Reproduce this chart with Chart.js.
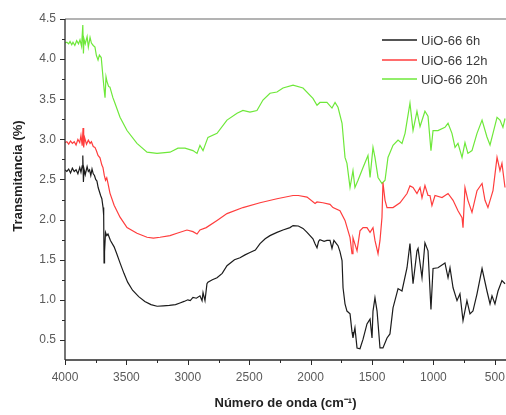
<!DOCTYPE html>
<html>
<head>
<meta charset="utf-8">
<script src="https://cdn.jsdelivr.net/npm/chart.js@4.4.1/dist/chart.umd.min.js"></script>
<style>
  html, body { margin: 0; padding: 0; background: #fff; }
  #wrap { width: 506px; height: 415px; }
</style>
</head>
<body>
<div id="wrap"><canvas id="c" width="506" height="415"></canvas></div>
<script>
// FTIR spectra of UiO-66 at three synthesis times (wavenumber in cm-1, transmittance)
const seriesNames = ['UiO-66 6h', 'UiO-66 12h', 'UiO-66 20h'];

const wn6h = [4000,3985,3970,3955,3940,3925,3910,3895,3880,3870,3860,3855,3850,3845,3835,3820,3810,3800,3790,3780,3770,3760,3750,3740,3730,3720,3710,3700,3690,3685,3682,3678,3670,3660,3650,3640,3630,3600,3580,3552,3520,3490,3450,3400,3350,3300,3250,3200,3150,3100,3064,3030,3000,2980,2958,2930,2901,2884,2876,2860,2844,2836,2800,2762,2720,2681,2620,2575,2534,2494,2450,2412,2370,2331,2274,2225,2168,2143,2100,2062,2029,1981,1964,1948,1935,1924,1890,1867,1842,1826,1810,1795,1777,1761,1744,1736,1720,1704,1679,1663,1655,1639,1622,1598,1573,1541,1516,1500,1492,1476,1459,1435,1411,1378,1354,1329,1288,1256,1215,1191,1166,1134,1125,1093,1069,1044,1020,1003,963,906,881,865,840,808,784,759,727,702,678,645,604,564,539,523,499,474,442,417];
const t6h  = [2.62,2.60,2.63,2.58,2.64,2.60,2.62,2.57,2.65,2.59,2.67,2.80,2.47,2.63,2.56,2.66,2.60,2.62,2.55,2.63,2.57,2.55,2.50,2.48,2.40,2.35,2.30,2.26,2.15,2.05,1.46,1.60,1.84,1.80,1.82,1.78,1.74,1.66,1.58,1.46,1.33,1.22,1.12,1.04,0.98,0.94,0.92,0.925,0.93,0.94,0.96,0.98,1.00,0.99,1.03,1.02,1.05,0.99,1.09,0.99,1.20,1.22,1.25,1.275,1.33,1.425,1.50,1.525,1.56,1.59,1.62,1.70,1.76,1.80,1.84,1.87,1.90,1.925,1.92,1.89,1.84,1.76,1.70,1.65,1.73,1.75,1.73,1.74,1.74,1.64,1.74,1.71,1.675,1.60,1.49,1.15,0.95,0.86,0.825,0.60,0.525,0.65,0.40,0.39,0.51,0.70,0.76,0.525,0.86,1.025,0.86,0.40,0.40,0.525,0.575,0.90,1.14,1.11,1.40,1.70,1.20,1.61,1.64,1.275,1.71,1.61,0.88,1.39,1.40,1.46,1.275,1.40,1.15,0.99,1.075,0.74,0.99,0.825,0.86,1.075,1.39,1.11,0.95,1.05,0.95,1.11,1.24,1.20];

const wn12h = [4000,3985,3970,3955,3940,3925,3910,3895,3880,3870,3860,3853,3848,3840,3825,3810,3796,3785,3770,3756,3745,3731,3715,3700,3691,3680,3670,3660,3650,3634,3600,3552,3495,3414,3332,3280,3226,3145,3088,3007,2958,2925,2901,2850,2762,2681,2551,2412,2274,2143,2100,2029,1964,1948,1900,1842,1818,1761,1720,1679,1663,1655,1622,1598,1573,1541,1516,1492,1476,1451,1435,1419,1411,1394,1378,1329,1272,1215,1191,1166,1134,1109,1093,1069,1044,1028,1012,987,930,881,840,800,767,759,743,719,686,645,604,580,556,515,482,458,442,417];
const t12h  = [2.96,2.97,2.94,2.98,2.95,2.97,2.93,3.00,2.96,3.05,2.92,3.14,2.90,3.02,2.94,2.99,2.95,2.97,2.91,2.90,2.86,2.80,2.77,2.68,2.65,2.55,2.49,2.52,2.45,2.33,2.18,2.03,1.90,1.83,1.78,1.77,1.78,1.80,1.83,1.87,1.85,1.82,1.87,1.90,1.99,2.075,2.15,2.21,2.26,2.30,2.30,2.28,2.20,2.22,2.21,2.19,2.15,2.11,1.99,1.775,1.575,1.775,1.61,1.86,1.90,1.90,1.84,1.90,1.74,1.575,1.74,2.025,2.46,2.24,2.15,2.15,2.21,2.325,2.42,2.40,2.325,2.40,2.27,2.425,2.30,2.30,2.175,2.30,2.275,2.325,2.24,2.11,2.025,1.90,2.40,2.24,2.09,2.36,2.45,2.24,2.15,2.36,2.775,2.61,2.70,2.40];

const wn20h = [4000,3985,3970,3959,3945,3935,3920,3905,3890,3878,3865,3855,3850,3845,3835,3820,3810,3796,3785,3770,3756,3745,3731,3720,3705,3691,3680,3674,3666,3658,3645,3634,3610,3593,3552,3495,3414,3332,3251,3145,3080,3023,2958,2925,2901,2876,2836,2762,2681,2599,2551,2494,2437,2388,2331,2274,2225,2143,2062,1981,1948,1924,1867,1826,1801,1777,1744,1720,1704,1679,1655,1639,1614,1573,1533,1516,1492,1476,1451,1419,1394,1370,1329,1288,1256,1231,1191,1166,1134,1109,1069,1044,1020,1003,963,906,881,849,824,800,767,743,719,686,645,604,564,539,515,482,458,434,417];
const t20h  = [4.20,4.21,4.19,4.22,4.18,4.21,4.17,4.23,4.19,4.24,4.16,4.425,4.07,4.25,4.19,4.28,4.15,4.27,4.20,4.17,4.15,4.05,3.99,4.05,4.02,3.78,3.60,3.52,3.78,3.72,3.66,3.65,3.52,3.45,3.275,3.11,2.95,2.84,2.825,2.84,2.89,2.89,2.86,2.825,2.925,2.86,3.025,3.075,3.24,3.325,3.36,3.34,3.36,3.49,3.575,3.59,3.64,3.675,3.64,3.51,3.425,3.46,3.46,3.39,3.46,3.40,3.20,2.775,2.70,2.40,2.61,2.40,2.49,2.65,2.80,2.525,2.90,2.775,2.525,2.45,2.49,2.775,2.925,2.99,2.95,3.075,3.45,3.11,3.35,3.16,3.35,3.29,2.86,3.11,3.11,3.15,3.20,3.075,2.90,2.95,2.775,2.96,2.825,2.86,3.075,3.24,3.03,2.93,3.075,3.275,3.24,3.15,3.26];

const xTickValues = [4000, 3500, 3000, 2500, 2000, 1500, 1000, 500];
const yTickValues = [0.5, 1.0, 1.5, 2.0, 2.5, 3.0, 3.5, 4.0, 4.5];

const seriesColors = ['#1c1c1c', '#ff3d3d', '#6ee83a'];

const toPoints = (xs, ys) => xs.map((x, i) => ({ x: x, y: ys[i] }));

const FONT = '"Liberation Sans", Arial, Helvetica, sans-serif';

// tick marks, frame, legend and y-axis title
const decor = {
  id: 'decor',
  afterDraw(chart) {
    const { ctx, chartArea: a, scales: { x, y } } = chart;
    ctx.save();
    const seg = (x1, y1, x2, y2) => { ctx.beginPath(); ctx.moveTo(x1, y1); ctx.lineTo(x2, y2); ctx.stroke(); };

    // top frame line
    ctx.strokeStyle = '#9a9a9a';
    ctx.lineWidth = 1.5;
    seg(a.left, a.top, a.right, a.top);

    // axes
    ctx.strokeStyle = '#2a2a2a';
    ctx.lineWidth = 1.3;
    seg(a.left, a.top, a.left, a.bottom);
    seg(a.left, a.bottom, a.right, a.bottom);

    ctx.lineWidth = 1;
    for (let v = 500; v <= 4000; v += 250) {
      const px = Math.round(x.getPixelForValue(v)) + 0.5;
      seg(px, a.bottom, px, a.bottom + (v % 500 === 0 ? 5 : 3));
    }
    for (let v = 0.5; v <= 4.5001; v += 0.25) {
      const py = Math.round(y.getPixelForValue(v)) + 0.5;
      const major = Math.abs(v * 2 - Math.round(v * 2)) < 1e-6;
      seg(a.left, py, a.left - (major ? 5 : 3), py);
    }

    // legend
    ctx.font = '13px ' + FONT;
    ctx.textBaseline = 'middle';
    ctx.textAlign = 'left';
    const rows = [40, 60, 79];
    seriesNames.forEach((name, i) => {
      ctx.strokeStyle = seriesColors[i];
      ctx.lineWidth = 1.5;
      seg(382, rows[i], 417, rows[i]);
      ctx.fillStyle = '#3a3a3a';
      ctx.fillText(name, 421, rows[i] + 1);
    });

    // y-axis title
    ctx.translate(18, 176);
    ctx.rotate(-Math.PI / 2);
    ctx.textAlign = 'center';
    ctx.fillStyle = '#222';
    ctx.font = 'bold 13px ' + FONT;
    ctx.fillText('Transmitancia (%)', 0, 0);
    ctx.restore();
  }
};

new Chart(document.getElementById('c'), {
  type: 'line',
  data: {
    datasets: [
      { label: seriesNames[0], data: toPoints(wn6h, t6h) },
      { label: seriesNames[1], data: toPoints(wn12h, t12h) },
      { label: seriesNames[2], data: toPoints(wn20h, t20h) }
    ].map((d, i) => Object.assign(d, {
      borderColor: seriesColors[i],
      borderWidth: 1.2,
      pointRadius: 0,
      tension: 0,
      fill: false
    }))
  },
  options: {
    responsive: false,
    maintainAspectRatio: false,
    animation: false,
    parsing: true,
    layout: { padding: { top: 19, right: 0, bottom: 2, left: 0 } },
    plugins: { legend: { display: false }, tooltip: { enabled: false } },
    scales: {
      x: {
        type: 'linear',
        reverse: true,
        min: 409,
        max: 4000,
        afterFit: s => { s.height = 53; s.paddingLeft = 0; s.paddingRight = 0; },
        afterBuildTicks: s => { s.ticks = xTickValues.map(v => ({ value: v })); },
        grid: { display: false, drawTicks: false },
        border: { display: false },
        ticks: {
          padding: 10,
          maxRotation: 0,
          autoSkip: false,
          color: '#5a5a5a',
          font: { family: FONT, size: 12 },
          callback: v => String(v)
        },
        title: {
          display: true,
          text: 'Número de onda (cm⁻¹)',
          color: '#222',
          font: { family: FONT, size: 13, weight: 'bold' },
          padding: { top: 0, bottom: 2 }
        }
      },
      y: {
        type: 'linear',
        min: 0.25,
        max: 4.5,
        afterFit: s => { s.width = 65; s.paddingTop = 0; s.paddingBottom = 0; },
        afterBuildTicks: s => { s.ticks = yTickValues.map(v => ({ value: v })); },
        grid: { display: false, drawTicks: false },
        border: { display: false },
        ticks: {
          padding: 9,
          autoSkip: false,
          color: '#5a5a5a',
          font: { family: FONT, size: 12 },
          callback: v => v.toFixed(1)
        }
      }
    }
  },
  plugins: [decor]
});
</script>
</body>
</html>
